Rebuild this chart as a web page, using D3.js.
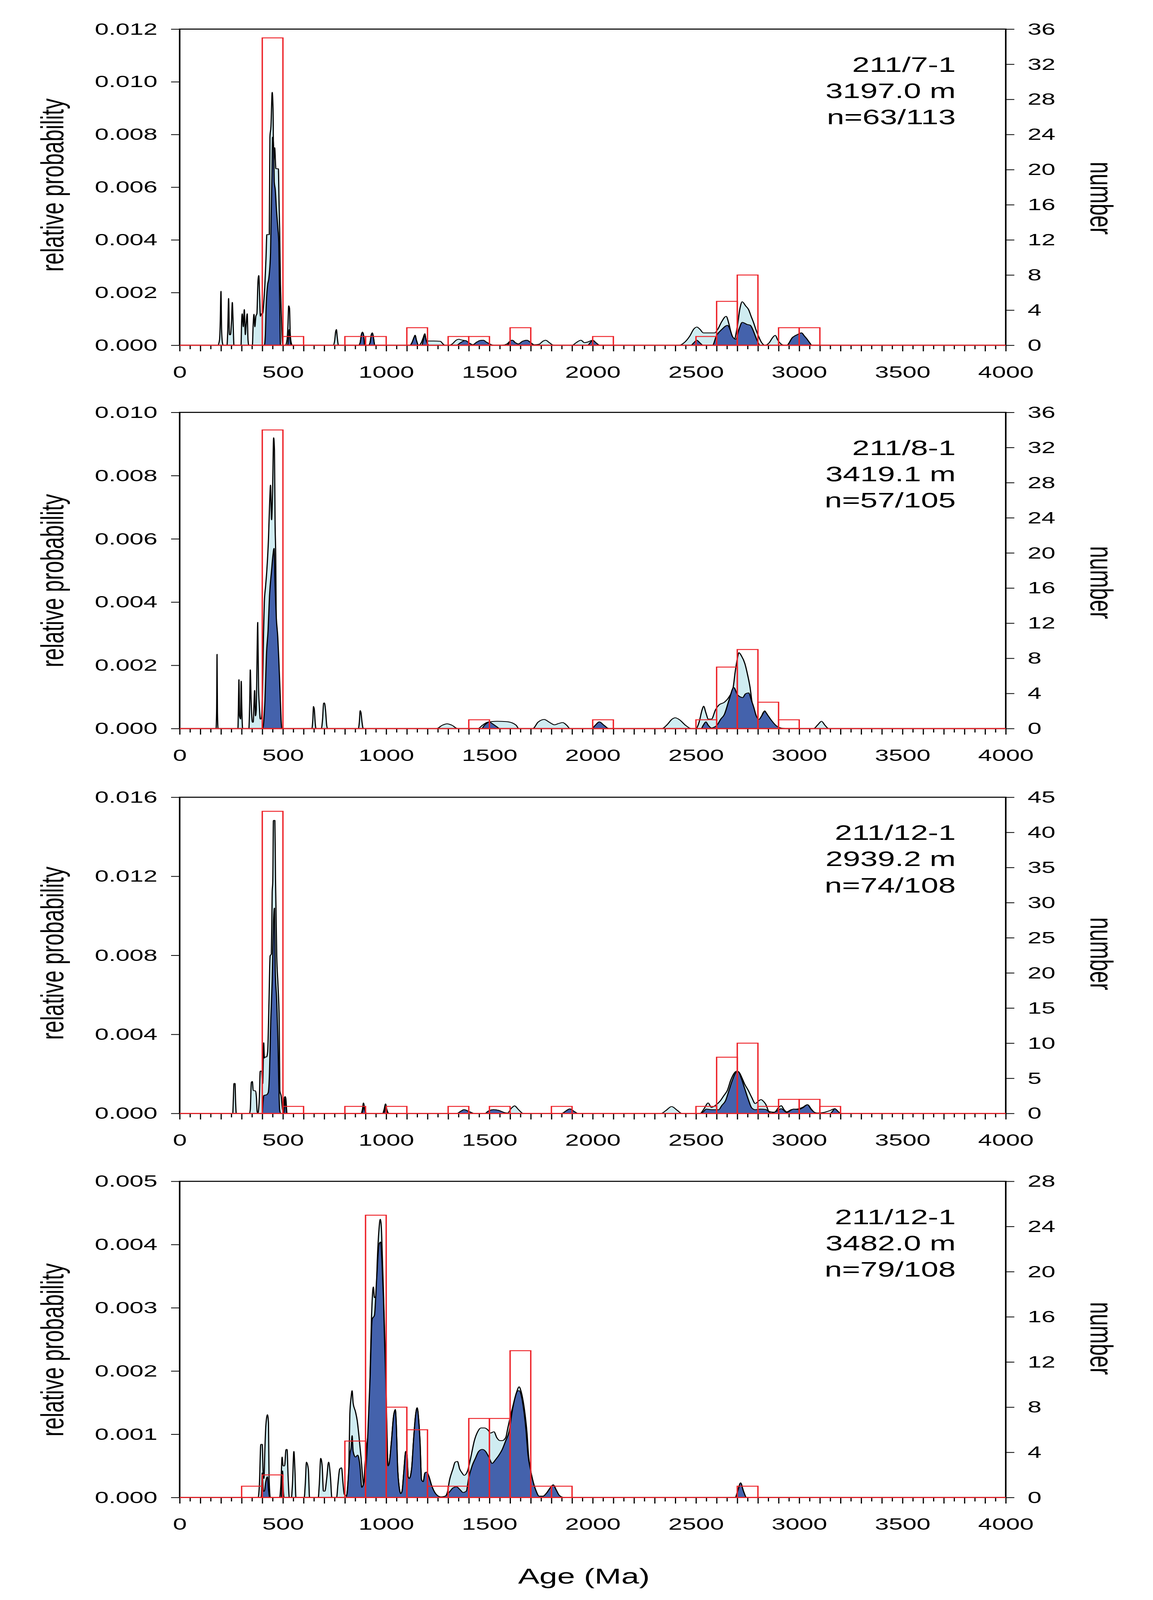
<!DOCTYPE html>
<html>
<head>
<meta charset="utf-8">
<script src="https://cdn.jsdelivr.net/npm/d3@7"></script>
<style>
  html, body { margin: 0; padding: 0; background: #fff; width: 100%; height: 100%; overflow: hidden; }
  #chart { width: 100vw; height: 100vh; }
  svg { display: block; }
  text { font-family: "Liberation Sans", Arial, sans-serif; fill: #000; }
</style>
</head>
<body>
<div id="chart"></div>
<script>
// ---------- labels & axis ranges ----------
const ageTicks = d3.range(0, 4001, 500);
const wells = ["211/7-1", "211/8-1", "211/12-1", "211/12-1"];
const depths = ["3197.0 m", "3419.1 m", "2939.2 m", "3482.0 m"];
const nLabels = ["n=63/113", "n=57/105", "n=74/108", "n=79/108"];
const probMax = [0.012, 0.010, 0.016, 0.005];
const probStep = [0.002, 0.002, 0.004, 0.001];
const countMax = [36, 36, 45, 28];
const countStep = [4, 4, 5, 4];

// ---------- histograms (100 Ma bins, concordant ages) ----------
const binAge1 = [400, 500, 800, 900, 1100, 1300, 1400, 1600, 2000, 2500, 2600, 2700, 2900, 3000];
const binCount1 = [35, 1, 1, 1, 2, 1, 1, 2, 1, 1, 5, 8, 2, 2];
const binAge2 = [400, 1400, 2000, 2500, 2600, 2700, 2800, 2900];
const binCount2 = [34, 1, 1, 1, 7, 9, 3, 1];
const binAge3 = [400, 500, 800, 1000, 1300, 1500, 1800, 2500, 2600, 2700, 2800, 2900, 3000, 3100];
const binCount3 = [43, 1, 1, 1, 1, 1, 1, 1, 8, 10, 1, 2, 2, 1];
const binAge4 = [300, 400, 800, 900, 1000, 1100, 1200, 1300, 1400, 1500, 1600, 1700, 1800, 2700];
const binCount4 = [1, 2, 5, 25, 8, 6, 1, 1, 7, 7, 13, 1, 1, 1];

// ---------- probability curves [age, relative probability] ----------
// all analyses (light fill)
const all1 = [[0,0],[185,0],[193,0.0002],[196,0.0007],[200,0.00205],[203,0.0006],[207,0.0001],[211,0],
  [229,0],[233,0.0006],[237,0.00178],[241,0.0004],[246,0.0004],[251,0.0009],[255,0.00163],[259,0.0008],[263,0],
  [297,0],[300,0.0009],[303,0.0012],[308,0.0007],[313,0.00136],[318,0.0004],[322,0.0008],[327,0.0012],[331,0.0002],[335,0],
  [352,0],[356,0.0008],[360,0.00118],[364,0.0007],[369,0.0011],[374,0.0012],[379,0.0024],[383,0.00265],[387,0.0019],[391,0.0011],
  [396,0.0012],[402,0.0012],[407,0.0016],[412,0.0022],[418,0.0033],[422,0.0042],[434,0.0042],[437,0.0079],[442,0.0083],[448,0.0096],
  [452,0.0090],[455,0.0070],[460,0.0075],[466,0.0067],[478,0.0067],[481,0.0055],[484,0.0044],[488,0.0023],[492,0.0012],[496,0.0003],[500,0],
  [512,0],[520,0.0002],[524,0.0007],[528,0.0015],[532,0.0014],[535,0.0005],[540,0.0001],[546,0],
  [744,0],[751,0.0002],[755,0.0005],[759,0.0006],[763,0.0003],[769,0],
  [866,0],[874,0.0001],[880,0.0004],[885,0.0005],[890,0.0004],[896,0],
  [914,0],[922,0.0001],[928,0.0004],[933,0.00047],[938,0.0003],[945,0],
  [1115,0],[1125,0.0001],[1135,0.0003],[1140,0.00038],[1146,0.0002],[1157,0],
  [1170,0.0001],[1180,0.0003],[1187,0.00044],[1193,0.0002],[1200,0.00016],[1230,0.00016],[1262,0.00015],[1275,0.00005],[1285,0],
  [1305,0],[1320,0.00005],[1340,0.0002],[1352,0.00023],[1365,0.0002],[1380,0.00018],[1395,0.0001],[1420,0.00002],[1435,0.0001],
  [1455,0.00018],[1470,0.00019],[1485,0.00012],[1510,0.00002],[1520,0],
  [1560,0],[1585,0.00005],[1600,0.00016],[1611,0.00019],[1625,0.0001],[1640,0.00005],[1660,0.00015],[1681,0.00019],[1700,0.0001],
  [1718,0.00002],[1740,0.00004],[1760,0.00016],[1772,0.00019],[1790,0.0001],[1811,0],
  [1900,0],[1920,0.0001],[1943,0.00019],[1960,0.0001],[1975,0.00012],[2000,0.00019],[2015,0.0001],[2035,0],
  [2420,0],[2440,0.00008],[2470,0.00035],[2490,0.00062],[2504,0.00069],[2520,0.0006],[2536,0.00047],[2590,0.00047],[2605,0.0006],
  [2625,0.0009],[2646,0.0011],[2660,0.0008],[2672,0.0004],[2685,0.00023],[2700,0.0007],[2713,0.0014],[2724,0.00165],[2740,0.0015],
  [2755,0.00135],[2767,0.0011],[2779,0.00086],[2790,0.0006],[2802,0.00036],[2818,0.0001],[2834,0],[2855,0.0001],[2872,0.0003],
  [2884,0.000375],[2896,0.0002],[2915,0.00003],[2928,0],
  [2940,0],[2967,0.00029],[2990,0.0004],[3011,0.00047],[3025,0.00035],[3038,0.00023],[3050,0.0001],[3061,0],[4000,0]];

// concordant analyses (dark fill)
const conc1 = [[0,0],[410,0],[415,0.0004],[418,0.0013],[426,0.0023],[431,0.0025],[440,0.0035],[443,0.0049],[447,0.0065],[450,0.0079],
  [455,0.0075],[458,0.0062],[463,0.0059],[469,0.0051],[476,0.0044],[480,0.0039],[483,0.0023],[486,0.0008],[488,0],
  [522,0],[526,0.0002],[530,0.0006],[533,0.0004],[537,0.0001],[542,0],
  [866,0],[874,0.0001],[880,0.0004],[885,0.0005],[890,0.0004],[896,0],
  [914,0],[922,0.0001],[928,0.0004],[933,0.00047],[938,0.0003],[945,0],
  [1115,0],[1125,0.0001],[1135,0.0003],[1140,0.00038],[1146,0.0002],[1157,0],
  [1172,0],[1180,0.0002],[1187,0.0004],[1193,0.0002],[1200,0.00005],[1210,0],
  [1340,0],[1360,0.0001],[1383,0.00018],[1400,0.0001],[1420,0.00002],[1435,0.0001],[1455,0.00018],[1470,0.00019],[1485,0.00012],[1510,0.00002],[1520,0],
  [1585,0],[1600,0.00016],[1611,0.00019],[1625,0.0001],[1640,0.00005],[1660,0.00015],[1681,0.00019],[1700,0.0001],[1718,0],
  [1975,0],[1988,0.0001],[2000,0.00019],[2015,0.0001],[2035,0],
  [2475,0],[2490,0.0001],[2504,0.00019],[2518,0.0001],[2535,0],
  [2580,0],[2599,0.00036],[2625,0.0006],[2653,0.00076],[2665,0.0006],[2677,0.00033],[2693,0.00023],[2708,0.0006],[2724,0.00087],
  [2748,0.00079],[2763,0.00076],[2775,0.0006],[2787,0.00036],[2798,0.00015],[2810,0],
  [2940,0],[2967,0.00029],[2990,0.0004],[3011,0.00047],[3025,0.00035],[3038,0.00023],[3050,0.0001],[3061,0],[4000,0]];

const all2 = [[0,0],[176,0],[179,0.0006],[181,0.00235],[183,0.0005],[186,0],
  [282,0],[285,0.0009],[287,0.00155],[290,0.0004],[295,0.0003],[298,0.0015],[301,0.0006],[305,0],
  [335,0],[339,0.0008],[342,0.00186],[346,0.0009],[352,0.0002],[356,0.0002],[360,0.0008],[363,0.00121],[367,0.0004],[371,0.0006],
  [375,0.0024],[378,0.00336],[382,0.0013],[386,0.0007],[390,0.0003],[394,0.0003],[397,0.0004],[402,0.0015],[406,0.0030],[410,0.0040],
  [416,0.0045],[422,0.0050],[430,0.0060],[436,0.0072],[440,0.0077],[445,0.0066],[450,0.0075],[455,0.0092],[459,0.0088],[462,0.0065],
  [465,0.0055],[468,0.0030],[472,0.0012],[476,0.0009],[479,0.0008],[483,0.0002],[488,0],
  [640,0],[645,0.0003],[648,0.0007],[652,0.0006],[656,0.0002],[660,0],
  [686,0],[692,0.0003],[697,0.0008],[701,0.00081],[706,0.0006],[712,0.0001],[716,0],
  [865,0],[870,0.0002],[874,0.00057],[878,0.0005],[883,0.0002],[889,0],
  [1245,0],[1270,0.0001],[1295,0.00015],[1320,0.0001],[1345,0],
  [1445,0],[1465,0.0001],[1490,0.0002],[1510,0.00022],[1540,0.00023],[1580,0.00022],[1610,0.00018],[1630,0.0001],[1642,0],
  [1710,0],[1735,0.0002],[1765,0.00029],[1790,0.0002],[1815,0.00012],[1835,0.00016],[1854,0.00019],[1875,0.0001],[1890,0],
  [1995,0],[2012,0.0001],[2032,0.00021],[2055,0.0001],[2078,0],
  [2335,0],[2360,0.00012],[2385,0.0003],[2399,0.00034],[2420,0.00028],[2450,0.0001],[2477,0],
  [2500,0],[2515,0.0002],[2530,0.0006],[2537,0.00071],[2548,0.0005],[2560,0.0003],[2575,0.0003],[2595,0.0006],[2612,0.00075],
  [2637,0.00083],[2660,0.0010],[2680,0.0013],[2690,0.0018],[2700,0.0022],[2708,0.0024],[2720,0.0023],[2737,0.00205],[2750,0.0017],
  [2762,0.0013],[2772,0.0008],[2780,0.00052],[2790,0.0003],[2798,0.0002],[2812,0.0003],[2825,0.0005],[2833,0.00056],[2845,0.0004],
  [2862,0.0002],[2880,0.0001],[2904,0.00003],[2933,0],
  [3070,0],[3090,0.00012],[3108,0.00023],[3125,0.0001],[3143,0],[4000,0]];

const conc2 = [[0,0],[402,0],[408,0.0003],[413,0.0009],[417,0.0017],[420,0.0023],[428,0.0031],[435,0.0042],[445,0.0050],[452,0.0055],
  [457,0.0057],[462,0.0045],[468,0.0035],[475,0.0029],[480,0.0022],[486,0.0012],[491,0.0003],[495,0],
  [1462,0],[1475,0.0001],[1490,0.00018],[1498,0.00021],[1515,0.00015],[1535,0.00006],[1551,0],
  [1995,0],[2012,0.0001],[2032,0.00021],[2055,0.0001],[2078,0],
  [2525,0],[2535,0.0001],[2548,0.00021],[2560,0.0001],[2575,0.00002],[2590,0.00005],[2601,0.0001],[2620,0.0003],[2637,0.00044],
  [2660,0.0009],[2683,0.0013],[2701,0.00107],[2715,0.001],[2726,0.00098],[2740,0.0011],[2755,0.00113],[2768,0.0009],[2780,0.00067],
  [2792,0.0004],[2805,0.00029],[2818,0.0004],[2833,0.00054],[2848,0.00042],[2862,0.00029],[2887,0.0001],[2922,0],[4000,0]];

const all3 = [[0,0],[257,0],[260,0.00074],[263,0.00152],[268,0.00152],[271,0.00054],[274,0],
  [338,0],[342,0.0002],[347,0.00157],[352,0.00162],[356,0.00116],[367,0.00114],[372,0.00075],[375,0.0001],[379,0],[383,0.0003],
  [386,0.0008],[390,0.00214],[397,0.00214],[402,0.0015],[407,0.00358],[410,0.0028],[415,0.00286],[421,0.00286],[426,0.00312],
  [432,0.00539],[438,0.00797],[444,0.00807],[448,0.01117],[451,0.01178],[454,0.01483],[461,0.01483],[464,0.01189],[470,0.00797],
  [476,0.00652],[482,0.00467],[485,0.00116],[492,0.00085],[498,0.0002],[503,0.0001],[507,0.0008],[511,0.00085],[514,0.00075],[520,0],
  [879,0],[885,0.0002],[890,0.00053],[895,0.0003],[904,0],
  [983,0],[990,0.0002],[997,0.00048],[1003,0.0002],[1014,0],
  [1343,0],[1360,0.0001],[1377,0.00019],[1400,0.0001],[1428,0],
  [1478,0],[1495,0.00012],[1520,0.00019],[1545,0.00015],[1570,0.00005],[1588,0.00002],[1605,0.00025],[1622,0.00038],[1640,0.0002],[1664,0],
  [1850,0],[1870,0.00012],[1889,0.00023],[1910,0.0001],[1929,0],
  [2331,0],[2355,0.00015],[2382,0.00035],[2410,0.00015],[2432,0],
  [2520,0],[2540,0.00025],[2559,0.00053],[2575,0.0003],[2593,0.0004],[2618,0.00064],[2635,0.0009],[2652,0.00117],[2669,0.0017],
  [2686,0.00205],[2699,0.00214],[2711,0.00205],[2723,0.00179],[2736,0.00148],[2753,0.00117],[2770,0.00081],[2787,0.0005],
  [2804,0.00064],[2815,0.0007],[2828,0.0006],[2838,0.00046],[2854,0.0001],[2880,0.00006],[2900,0.0003],[2913,0.00039],[2926,0.0002],
  [2939,0.00008],[2964,0.0002],[2990,0.00022],[3015,0.0003],[3040,0.00044],[3060,0.0002],[3074,0.00005],[3091,0.00002],[3120,0.00005],
  [3150,0.00015],[3172,0.00024],[3188,0.0001],[3201,0],[4000,0]];

const conc3 = [[0,0],[400,0],[404,0.0006],[407,0.0009],[422,0.00095],[429,0.00106],[435,0.00209],[441,0.00467],[448,0.00673],
  [454,0.00962],[459,0.01039],[463,0.00725],[470,0.0057],[476,0.00363],[480,0.00157],[484,0.0002],[489,0],
  [504,0],[508,0.0005],[511,0.00075],[514,0.0004],[518,0],
  [880,0],[886,0.0001],[890,0.0004],[895,0.0002],[902,0],
  [985,0],[992,0.0001],[997,0.00035],[1003,0.0001],[1012,0],
  [1343,0],[1360,0.0001],[1377,0.00019],[1400,0.0001],[1428,0],
  [1478,0],[1495,0.00012],[1520,0.00019],[1545,0.00015],[1570,0.00005],[1588,0],
  [1850,0],[1870,0.00012],[1889,0.00023],[1910,0.0001],[1929,0],
  [2525,0],[2537,0.0001],[2550,0.00022],[2575,0.00019],[2610,0.00019],[2625,0.0004],[2643,0.00064],[2660,0.00117],[2677,0.0017],
  [2694,0.00207],[2706,0.0021],[2719,0.00179],[2736,0.00126],[2753,0.00072],[2770,0.00028],[2787,0.00019],[2812,0.00022],
  [2838,0.0002],[2863,0.00002],[2888,0.0001],[2913,0.00024],[2939,0.00005],[2973,0.00022],[2998,0.0002],[3020,0.0003],
  [3040,0.00044],[3058,0.0002],[3074,0.00005],[3090,0],[3150,0],[3162,0.00012],[3172,0.00024],[3188,0.0001],[3201,0],[4000,0]];

const all4 = [[0,0],[380,0],[386,0.0002],[393,0.00084],[400,0.00084],[404,0.0004],[408,0.0003],[413,0.0008],[417,0.00112],
  [425,0.00131],[430,0.00118],[433,0.0003],[439,0],
  [484,0],[490,0.0002],[496,0.00064],[501,0.0005],[508,0.0005],[515,0.00076],[520,0.00076],[525,0.00033],[531,0],
  [541,0],[546,0.0002],[553,0.00073],[558,0.00044],[563,0],
  [603,0],[608,0.0002],[614,0.00056],[623,0.00045],[629,0],
  [671,0],[676,0.0002],[683,0.00062],[690,0.0005],[696,0.0001],[703,0.0001],[712,0.0003],[721,0.00056],[730,0.00033],[737,0],
  [760,0],[766,0.0002],[775,0.00045],[784,0.00047],[791,0.00022],[797,0.00005],[808,0.00003],[814,0.0002],[819,0.00045],
  [824,0.00132],[830,0.00158],[835,0.00169],[840,0.00149],[851,0.00136],[860,0.00121],[867,0.00101],[878,0.00064],[886,0.00033],
  [891,0.00019],[897,0.0005],[905,0.0008],[916,0.00115],[922,0.00194],[929,0.00285],[938,0.00333],[943,0.00316],[951,0.00319],
  [957,0.00375],[965,0.00423],[971,0.0044],[976,0.0043],[981,0.00384],[987,0.00322],[992,0.00265],[998,0.00186],[1003,0.00115],
  [1009,0.0005],[1014,0.00053],[1025,0.00087],[1036,0.00129],[1044,0.00139],[1049,0.00115],[1055,0.0005],[1063,0.00016],
  [1070,0.00006],[1077,0.0001],[1085,0.00039],[1095,0.00073],[1101,0.00067],[1106,0.00033],[1112,0.0003],[1123,0.00045],
  [1133,0.00093],[1142,0.00129],[1150,0.00142],[1157,0.00124],[1164,0.00087],[1171,0.00028],[1179,0.00025],[1188,0.00039],
  [1196,0.0004],[1207,0.00033],[1220,0.00019],[1242,0.00005],[1264,0.00001],[1285,0.00002],[1296,0.00008],[1307,0.00028],
  [1323,0.00045],[1334,0.00056],[1345,0.00057],[1356,0.00045],[1367,0.00039],[1378,0.00035],[1394,0.00042],[1410,0.00064],
  [1427,0.0009],[1443,0.00104],[1459,0.0011],[1475,0.0011],[1492,0.00107],[1505,0.00102],[1522,0.00104],[1535,0.00095],
  [1551,0.0009],[1562,0.0009],[1579,0.00095],[1589,0.0011],[1602,0.00129],[1617,0.00149],[1631,0.00166],[1644,0.00175],
  [1652,0.00169],[1660,0.00158],[1671,0.00135],[1682,0.00101],[1689,0.00067],[1698,0.00045],[1709,0.00028],[1725,0.00011],
  [1741,0.00002],[1758,0.00002],[1779,0.00008],[1796,0.00016],[1809,0.0002],[1823,0.00012],[1839,0.00003],[1861,0],
  [2690,0],[2702,0.0001],[2716,0.00023],[2730,0.0001],[2745,0],[4000,0]];

const conc4 = [[0,0],[395,0],[400,0.00039],[405,0.0001],[410,0.0001],[417,0.00025],[425,0.00033],[431,0.0001],[436,0],
  [492,0],[498,0.00042],[502,0.0001],[506,0],
  [805,0],[812,0.0001],[819,0.00045],[825,0.0007],[830,0.00078],[835,0.00098],[840,0.00073],[851,0.00064],[862,0.00067],
  [873,0.0005],[882,0.00016],[889,0.0002],[900,0.00039],[911,0.001],[922,0.0019],[932,0.00282],[943,0.00288],[954,0.00347],
  [965,0.004],[973,0.00404],[979,0.00378],[987,0.00313],[992,0.0025],[998,0.00186],[1003,0.001],[1009,0.0005],[1014,0.00053],
  [1025,0.00087],[1036,0.00129],[1044,0.00139],[1049,0.00115],[1055,0.0005],[1063,0.00016],[1070,0.00006],[1077,0.0001],
  [1085,0.00039],[1095,0.00073],[1101,0.00067],[1106,0.00033],[1112,0.0003],[1123,0.00045],[1133,0.00093],[1142,0.00129],
  [1150,0.00142],[1157,0.00124],[1164,0.00087],[1171,0.00028],[1179,0.00025],[1188,0.00039],[1196,0.0004],[1207,0.00033],
  [1220,0.00019],[1242,0.00005],[1264,0.00001],[1285,0.00002],[1296,0.00005],[1307,0.00009],[1323,0.00015],[1340,0.00017],
  [1356,0.00013],[1372,0.00008],[1388,0.0001],[1399,0.0003],[1416,0.0005],[1432,0.00062],[1448,0.00073],[1465,0.00076],
  [1481,0.00073],[1497,0.00064],[1513,0.00054],[1530,0.0006],[1546,0.00067],[1562,0.00076],[1579,0.0009],[1595,0.00104],
  [1611,0.00138],[1624,0.00158],[1635,0.00168],[1644,0.00169],[1655,0.0016],[1665,0.00141],[1676,0.0011],[1687,0.00067],
  [1698,0.00045],[1709,0.00028],[1725,0.00011],[1741,0.00002],[1758,0.00002],[1779,0.00008],[1796,0.00016],[1809,0.0002],
  [1823,0.00012],[1839,0.00003],[1861,0],
  [2690,0],[2702,0.0001],[2716,0.00023],[2730,0.0001],[2745,0],[4000,0]];

const panels = [
  {all: all1, conc: conc1, bins: binAge1, counts: binCount1},
  {all: all2, conc: conc2, bins: binAge2, counts: binCount2},
  {all: all3, conc: conc3, bins: binAge3, counts: binCount3},
  {all: all4, conc: conc4, bins: binAge4, counts: binCount4}
];

// ---------- layout ----------
const W = 2952, H = 6103;
const plotLeft = 460, plotRight = 2575, plotH = 1206;
const tops = [111, 1573, 3041, 4506];
const yTitleShift = [-8, 39, -8, 40];
const nTitleShift = [42, 46, -6, -4];
const lightFill = "#cfecf1", darkFill = "#4462ac", barRed = "#ed2228";

// drawn in a 2952x6103 coordinate space, fitted to the window
const svg = d3.select("#chart").append("svg")
    .attr("viewBox", `0 0 ${W} ${H}`)
    .attr("preserveAspectRatio", "none")
    .attr("width", "100%")
    .attr("height", "100%")
    .style("background", "#fff");

const x = d3.scaleLinear().domain([0, 4000]).range([plotLeft, plotRight]);

function styleAxis(g, size) {
    g.select(".domain").remove();
    g.selectAll(".tick line").attr("stroke", "#000").attr("stroke-width", 3);
    g.selectAll(".tick text")
        .style("font-family", '"Liberation Sans", Arial, sans-serif')
        .style("font-size", size + "px")
        .attr("fill", "#000");
}

panels.forEach((p, i) => {
    let top = tops[i];
    let bottom = top + plotH;
    let g = svg.append("g").attr("class", "panel");

    let y = d3.scaleLinear().domain([0, probMax[i]]).range([bottom, top]);
    let yN = d3.scaleLinear().domain([0, countMax[i]]).range([bottom, top]);

    let area = d3.area()
        .x(d => x(d[0]))
        .y0(bottom)
        .y1(d => y(d[1]))
        .curve(d3.curveMonotoneX);
    let line = d3.line()
        .x(d => x(d[0]))
        .y(d => y(d[1]))
        .curve(d3.curveMonotoneX);

    // all analyses
    g.append("path").datum(p.all).attr("d", area).attr("fill", lightFill);
    g.append("path").datum(p.all).attr("d", line)
        .attr("fill", "none").attr("stroke", "#000").attr("stroke-width", 3).attr("stroke-linejoin", "round");

    // concordant analyses
    g.append("path").datum(p.conc).attr("d", area).attr("fill", darkFill);
    g.append("path").datum(p.conc).attr("d", line)
        .attr("fill", "none").attr("stroke", "#000").attr("stroke-width", 3).attr("stroke-linejoin", "round");

    // frame
    g.append("rect")
        .attr("x", plotLeft).attr("y", top)
        .attr("width", plotRight - plotLeft).attr("height", plotH)
        .attr("fill", "none").attr("stroke", "#000").attr("stroke-width", 4);

    // x ticks: minor 50, major 100, labels 500
    let xMinor = g.append("g").attr("transform", `translate(0,${bottom})`)
        .call(d3.axisBottom(x).tickValues(d3.range(50, 4000, 100)).tickSize(15).tickSizeOuter(0).tickFormat(""));
    styleAxis(xMinor, 64);
    let xMajor = g.append("g").attr("transform", `translate(0,${bottom})`)
        .call(d3.axisBottom(x).tickValues(d3.range(0, 4001, 100)).tickSize(23).tickSizeOuter(0).tickFormat(""));
    styleAxis(xMajor, 64);
    let xLab = g.append("g").attr("transform", `translate(0,${bottom})`)
        .call(d3.axisBottom(x).tickValues(ageTicks).tickSize(0).tickPadding(78).tickFormat(d3.format("d")));
    styleAxis(xLab, 64);

    // histogram (red outlines)
    g.selectAll("rect.bar")
        .data(d3.zip(p.bins, p.counts))
        .join("rect")
        .attr("class", "bar")
        .attr("x", d => x(d[0]))
        .attr("width", d => x(d[0] + 100) - x(d[0]))
        .attr("y", d => yN(d[1]))
        .attr("height", d => bottom - yN(d[1]))
        .attr("fill", "none")
        .attr("stroke", barRed)
        .attr("stroke-width", 3.5);
    g.append("line")
        .attr("x1", x(0)).attr("x2", x(4000))
        .attr("y1", bottom).attr("y2", bottom)
        .attr("stroke", barRed).attr("stroke-width", 4);

    // left axis
    let yAx = g.append("g").attr("transform", `translate(${plotLeft},0)`)
        .call(d3.axisLeft(y)
            .tickValues(d3.range(0, probMax[i] + probStep[i] / 2, probStep[i]))
            .tickFormat(d3.format(".3f"))
            .tickSize(22).tickPadding(35).tickSizeOuter(0));
    styleAxis(yAx, 64);

    // right axis
    let nAx = g.append("g").attr("transform", `translate(${plotRight},0)`)
        .call(d3.axisRight(yN)
            .tickValues(d3.range(0, countMax[i] + 1, countStep[i]))
            .tickFormat(d3.format("d"))
            .tickSize(22).tickPadding(34).tickSizeOuter(0));
    styleAxis(nAx, 64);

    // axis titles
    let mid = (top + bottom) / 2;
    g.append("text")
        .attr("transform", `translate(162,${mid + yTitleShift[i]}) rotate(-90)`)
        .attr("text-anchor", "middle")
        .style("font-size", "82px")
        .text("relative probability");
    g.append("text")
        .attr("transform", `translate(2792,${mid + nTitleShift[i]}) rotate(90)`)
        .attr("text-anchor", "middle")
        .style("font-size", "82px")
        .text("number");

    // sample label
    [wells[i], depths[i], nLabels[i]].forEach((t, k) => {
        g.append("text")
            .attr("x", 2447)
            .attr("y", top + 163 + k * 100)
            .attr("text-anchor", "end")
            .style("font-size", "80px")
            .text(t);
    });
});

svg.append("text")
    .attr("x", 1495)
    .attr("y", 6041)
    .attr("text-anchor", "middle")
    .style("font-size", "82px")
    .text("Age (Ma)");
</script>
</body>
</html>
